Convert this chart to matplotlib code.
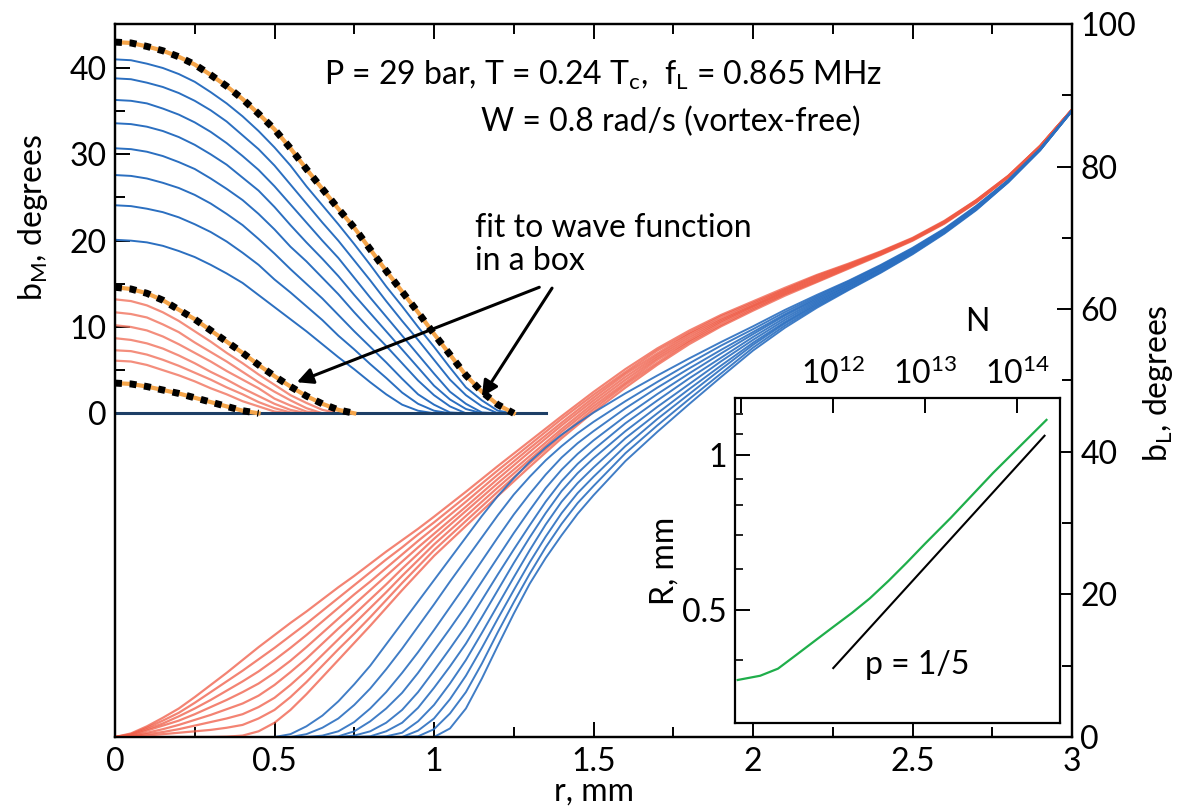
import matplotlib
matplotlib.use('Agg')
import matplotlib.pyplot as plt
from matplotlib.ticker import FixedLocator, NullFormatter, FixedFormatter

plt.rcParams['font.family'] = ['Lato', 'DejaVu Sans']
plt.rcParams['mathtext.fontset'] = 'custom'
plt.rcParams['mathtext.rm'] = 'Lato'
plt.rcParams['mathtext.default'] = 'regular'

# ---- data ----
# b_L(r), right axis. red family: 0.05 mm steps up to 1 mm, then 0.1 mm
r_red = [0.0, 0.05, 0.1, 0.15, 0.2, 0.25, 0.3, 0.35, 0.4, 0.45, 0.5, 0.55, 0.6, 0.65, 0.7,
         0.75, 0.8, 0.85, 0.9, 0.95, 1.0, 1.1, 1.2, 1.3, 1.4, 1.5, 1.6, 1.7, 1.8, 1.9, 2.0,
         2.1, 2.2, 2.3, 2.4, 2.5, 2.6, 2.7, 2.8, 2.9, 3.0]

bL_red = [
    [0, 0.5, 1.5, 2.7, 4.0, 5.6, 7.3, 9.0, 10.8, 12.6, 14.3, 16.0, 17.6, 19.3, 21.0, 22.6, 24.3, 26.0, 27.6, 29.2, 30.9,
     34.4, 38.0, 41.5, 45.0, 48.4, 51.6, 54.5, 57.0, 59.2, 61.1, 63.0, 64.8, 66.4, 68.1, 70.0, 72.4, 75.3, 78.7, 82.9, 88.0],
    [0, 0.4, 1.3, 2.3, 3.4, 4.8, 6.3, 7.8, 9.3, 10.9, 12.5, 14.2, 15.9, 17.7, 19.5, 21.3, 23.1, 24.9, 26.6, 28.4, 30.1,
     33.7, 37.4, 41.0, 44.6, 48.0, 51.2, 54.2, 56.7, 59.0, 60.9, 62.8, 64.7, 66.3, 68.0, 69.9, 72.3, 75.3, 78.7, 82.9, 88.0],
    [0, 0.3, 1.1, 1.9, 2.9, 4.0, 5.2, 6.5, 7.8, 9.2, 10.8, 12.5, 14.3, 16.2, 18.1, 20.0, 21.8, 23.7, 25.6, 27.5, 29.3,
     33.0, 36.8, 40.5, 44.1, 47.6, 50.9, 53.8, 56.5, 58.7, 60.7, 62.7, 64.5, 66.2, 68.0, 69.9, 72.3, 75.2, 78.6, 82.9, 88.0],
    [0, 0.2, 0.9, 1.6, 2.3, 3.2, 4.2, 5.2, 6.3, 7.5, 9.0, 10.7, 12.6, 14.6, 16.6, 18.6, 20.6, 22.6, 24.6, 26.6, 28.5,
     32.3, 36.2, 40.0, 43.7, 47.2, 50.5, 53.5, 56.2, 58.5, 60.5, 62.5, 64.4, 66.1, 67.9, 69.8, 72.2, 75.2, 78.6, 82.9, 88.0],
    [0, 0.1, 0.6, 1.1, 1.7, 2.4, 3.1, 3.9, 4.7, 5.8, 7.3, 9.1, 11.0, 13.1, 15.2, 17.2, 19.3, 21.4, 23.6, 25.7, 27.8,
     31.7, 35.6, 39.4, 43.2, 46.8, 50.1, 53.2, 55.9, 58.3, 60.4, 62.4, 64.2, 66.0, 67.8, 69.8, 72.2, 75.1, 78.6, 82.8, 88.0],
    [0, 0.1, 0.4, 0.7, 1.1, 1.6, 2.1, 2.6, 3.2, 4.2, 5.5, 7.3, 9.3, 11.5, 13.7, 15.9, 18.1, 20.3, 22.6, 24.8, 27.0,
     31.0, 35.0, 38.9, 42.8, 46.4, 49.7, 52.9, 55.6, 58.1, 60.2, 62.2, 64.1, 65.9, 67.7, 69.7, 72.1, 75.1, 78.6, 82.8, 88.0],
    [0, 0.0, 0.2, 0.4, 0.6, 0.8, 1.0, 1.3, 1.7, 2.6, 3.8, 5.6, 7.7, 10.0, 12.3, 14.5, 16.8, 19.2, 21.6, 23.9, 26.2,
     30.3, 34.4, 38.4, 42.3, 46.0, 49.4, 52.5, 55.4, 57.8, 60.0, 62.1, 63.9, 65.8, 67.7, 69.7, 72.1, 75.0, 78.5, 82.8, 88.0],
    [0, 0, 0, 0, 0, 0, 0, 0.05, 0.2, 0.8, 2.0, 3.8, 6.0, 8.4, 10.8, 13.2, 15.6, 18.1, 20.6, 23.0, 25.4,
     29.6, 33.8, 37.9, 41.9, 45.6, 49.0, 52.2, 55.1, 57.6, 59.8, 61.9, 63.8, 65.7, 67.6, 69.6, 72.0, 75.0, 78.5, 82.8, 88.0],
]

# blue family: 0.05 mm steps between 0.5 and 1.5 mm
r_blue = [0.0, 0.1, 0.2, 0.3, 0.4, 0.5, 0.55, 0.6, 0.65, 0.7, 0.75, 0.8, 0.85, 0.9, 0.95, 1.0,
          1.05, 1.1, 1.15, 1.2, 1.25, 1.3, 1.35, 1.4, 1.45, 1.5, 1.6, 1.7, 1.8, 1.9, 2.0,
          2.1, 2.2, 2.3, 2.4, 2.5, 2.6, 2.7, 2.8, 2.9, 3.0]

bL_blue = [
    [0, 0, 0, 0, 0, 0, 0.4, 1.5, 3.0, 5.0, 7.4, 10.0, 13.0, 16.0, 19.0, 22.0, 25.0, 28.0, 31.0, 33.8, 36.3, 38.6, 40.6, 42.4, 44.0, 45.5,
     48.2, 50.7, 53.1, 55.4, 57.6, 59.9, 62.0, 64.0, 66.2, 68.6, 71.3, 74.5, 78.1, 82.5, 87.9],
    [0, 0, 0, 0, 0, 0, 0.0, 0.4, 1.3, 2.6, 4.5, 6.8, 9.5, 12.4, 15.5, 18.6, 21.8, 24.9, 28.0, 31.1, 34.0, 36.5, 38.8, 40.8, 42.6, 44.2,
     47.1, 49.8, 52.4, 54.9, 57.2, 59.6, 61.8, 63.9, 66.1, 68.5, 71.2, 74.4, 78.1, 82.5, 87.9],
    [0, 0, 0, 0, 0, 0, 0, 0, 0.2, 0.8, 2.1, 4.0, 6.3, 9.0, 11.9, 15.0, 18.2, 21.4, 24.7, 28.0, 31.2, 34.1, 36.8, 39.2, 41.2, 42.9,
     46.1, 49.0, 51.7, 54.3, 56.8, 59.3, 61.6, 63.7, 66.0, 68.4, 71.1, 74.4, 78.0, 82.5, 87.9],
    [0, 0, 0, 0, 0, 0, 0, 0, 0, 0.1, 0.8, 2.2, 4.0, 6.2, 9.0, 12.1, 15.2, 18.4, 21.8, 25.2, 28.6, 31.8, 34.9, 37.5, 39.7, 41.6,
     45.0, 48.1, 51.0, 53.8, 56.5, 59.1, 61.4, 63.6, 65.8, 68.3, 71.1, 74.3, 78.0, 82.4, 87.9],
    [0, 0, 0, 0, 0, 0, 0, 0, 0, 0, 0.2, 0.8, 2.0, 3.8, 6.3, 9.3, 12.4, 15.6, 19.2, 22.8, 26.3, 29.7, 33.0, 35.9, 38.3, 40.3,
     44.0, 47.2, 50.3, 53.2, 56.1, 58.8, 61.2, 63.4, 65.7, 68.2, 71.0, 74.2, 78.0, 82.4, 87.9],
    [0, 0, 0, 0, 0, 0, 0, 0, 0, 0, 0, 0.1, 0.8, 2.0, 4.1, 6.9, 9.9, 13.1, 16.8, 20.6, 24.4, 28.0, 31.4, 34.5, 37.0, 39.1,
     42.9, 46.3, 49.5, 52.7, 55.7, 58.5, 61.0, 63.3, 65.6, 68.1, 70.9, 74.2, 77.9, 82.4, 87.8],
    [0, 0, 0, 0, 0, 0, 0, 0, 0, 0, 0, 0, 0.1, 0.6, 2.2, 4.5, 7.5, 10.8, 14.6, 18.5, 22.4, 26.2, 29.8, 33.0, 35.6, 37.8,
     41.9, 45.4, 48.8, 52.1, 55.3, 58.2, 60.8, 63.1, 65.5, 68.0, 70.8, 74.1, 77.9, 82.4, 87.8],
    [0, 0, 0, 0, 0, 0, 0, 0, 0, 0, 0, 0, 0, 0, 0.9, 2.6, 5.3, 8.6, 12.5, 16.6, 20.6, 24.5, 28.1, 31.4, 34.2, 36.5,
     40.8, 44.6, 48.1, 51.6, 55.0, 58.0, 60.6, 63.0, 65.3, 67.9, 70.8, 74.0, 77.9, 82.3, 87.8],
    [0, 0, 0, 0, 0, 0, 0, 0, 0, 0, 0, 0, 0, 0, 0.1, 1.1, 3.3, 6.3, 10.3, 14.7, 18.9, 22.9, 26.6, 29.9, 32.8, 35.2,
     39.8, 43.7, 47.4, 51.0, 54.6, 57.7, 60.4, 62.8, 65.2, 67.8, 70.7, 74.0, 77.8, 82.3, 87.8],
    [0, 0, 0, 0, 0, 0, 0, 0, 0, 0, 0, 0, 0, 0, 0, 0, 1.2, 4.0, 8.2, 12.8, 17.3, 21.5, 25.1, 28.3, 31.3, 33.9,
     38.7, 42.8, 46.7, 50.5, 54.2, 57.4, 60.2, 62.7, 65.1, 67.7, 70.6, 73.9, 77.8, 82.3, 87.8],
]

# b_M(r), left axis, sampled every 0.05 mm (curves stay at 0 up to the end of r_M)
r_M = [0.0, 0.05, 0.1, 0.15, 0.2, 0.25, 0.3, 0.35, 0.4, 0.45, 0.5, 0.55, 0.6, 0.65,
       0.7, 0.75, 0.8, 0.85, 0.9, 0.95, 1.0, 1.05, 1.1, 1.15, 1.2, 1.25, 1.3, 1.35]

bM_red = [
    [14.6, 14.4, 13.9, 13.1, 12.0, 10.9, 9.6, 8.3, 7.0, 5.6, 4.3, 3.1, 2.0, 1.1, 0.4, 0.0],
    [13.2, 13.0, 12.5, 11.7, 10.7, 9.5, 8.3, 7.0, 5.8, 4.5, 3.3, 2.1, 1.2, 0.4, 0.0],
    [11.7, 11.5, 11.1, 10.3, 9.4, 8.2, 7.1, 6.0, 4.8, 3.6, 2.5, 1.5, 0.6, 0.0],
    [10.2, 10.0, 9.6, 8.9, 8.0, 7.0, 6.0, 4.9, 3.9, 2.9, 1.7, 0.9, 0.2, 0.0],
    [8.7, 8.5, 8.1, 7.5, 6.7, 5.8, 4.8, 3.9, 2.9, 2.0, 1.1, 0.4, 0.0],
    [7.3, 7.2, 6.8, 6.2, 5.5, 4.7, 3.9, 3.0, 2.2, 1.3, 0.6, 0.1, 0.0],
    [6.1, 6.0, 5.6, 5.0, 4.4, 3.7, 2.9, 2.2, 1.4, 0.8, 0.2, 0.0],
    [3.5, 3.4, 3.1, 2.7, 2.3, 1.8, 1.3, 0.8, 0.3, 0.0],
]

bM_blue = [
    [43.0, 42.9, 42.5, 42.0, 41.3, 40.4, 39.2, 37.9, 36.4, 34.7, 32.9, 30.7, 28.3, 26.0, 23.7, 21.5, 19.0, 16.5, 14.1, 11.7, 9.2, 6.8, 4.4, 2.5, 1.0, 0.0],
    [41.0, 40.9, 40.5, 40.0, 39.3, 38.4, 37.2, 35.9, 34.4, 32.7, 30.8, 28.7, 26.3, 24.1, 21.9, 19.6, 17.2, 14.7, 12.4, 10.0, 7.7, 5.3, 3.0, 1.5, 0.3, 0.0],
    [38.8, 38.7, 38.3, 37.8, 37.1, 36.2, 35.1, 33.8, 32.2, 30.6, 28.7, 26.5, 24.3, 22.1, 20.0, 17.7, 15.4, 13.0, 10.7, 8.5, 6.2, 3.9, 2.1, 0.8, 0.0],
    [36.3, 36.2, 35.9, 35.3, 34.6, 33.7, 32.6, 31.3, 29.8, 28.2, 26.3, 24.2, 22.1, 20.0, 18.0, 15.7, 13.4, 11.2, 9.0, 6.8, 4.6, 2.5, 1.1, 0.1, 0.0],
    [33.6, 33.5, 33.2, 32.7, 32.0, 31.1, 30.0, 28.8, 27.3, 25.8, 23.9, 21.8, 19.8, 17.9, 15.9, 13.7, 11.6, 9.5, 7.4, 5.3, 3.2, 1.6, 0.5, 0.0],
    [30.7, 30.6, 30.3, 29.8, 29.1, 28.3, 27.2, 26.0, 24.7, 23.1, 21.3, 19.3, 17.6, 15.7, 13.8, 11.7, 9.7, 7.8, 5.8, 3.8, 2.1, 0.8, 0.0],
    [27.6, 27.5, 27.2, 26.7, 26.1, 25.3, 24.3, 23.1, 21.8, 20.2, 18.5, 16.7, 15.0, 13.3, 11.4, 9.5, 7.7, 5.9, 4.0, 2.2, 1.0, 0.1, 0.0],
    [24.1, 24.0, 23.7, 23.3, 22.7, 21.9, 21.0, 19.9, 18.6, 17.2, 15.5, 14.0, 12.4, 10.8, 9.0, 7.4, 5.7, 4.1, 2.4, 1.1, 0.3, 0.0],
    [20.1, 20.0, 19.8, 19.4, 18.8, 18.1, 17.2, 16.2, 15.1, 13.7, 12.3, 10.9, 9.5, 8.0, 6.5, 5.1, 3.6, 2.2, 1.0, 0.3, 0.0],
]

# curves marked with the "wave function in a box" fits
fit_curves = [bM_blue[0], bM_red[0], bM_red[-1]]

# inset: R vs N
N_green = [9.1e10, 1.6e11, 2.5e11, 4.0e11, 6.3e11, 1.0e12, 1.6e12, 2.5e12, 4.0e12,
           6.3e12, 1.0e13, 1.9e13, 5.5e13, 2.1e14]
R_green = [0.366, 0.373, 0.385, 0.41, 0.436, 0.464, 0.494, 0.527, 0.57, 0.618, 0.673,
           0.755, 0.923, 1.17]
N_pow = [1.0e12, 2.0e14]
R_pow = [0.386, 1.09]

red_c = '#ef5a44'
blue_c = '#2b6fc0'
FS = 23

fig = plt.figure(figsize=(11.88, 8.10), dpi=100)
ax = fig.add_axes([0.0968, 0.0901, 0.8056, 0.8803])
ax2 = ax.twinx()

# b_L curves (right axis)
for v in bL_red:
    ax2.plot(r_red, v, color=red_c, lw=1.6, alpha=0.75)
for v in bL_blue:
    ax2.plot(r_blue, v, color=blue_c, lw=1.4, alpha=0.9)

# b_M curves (left axis)
def padded(v):
    return list(v) + [0.0] * (len(r_M) - len(v))

for v in bM_red:
    ax.plot(r_M, padded(v), color='#f27a66', lw=1.6, alpha=0.85)
for v in bM_blue:
    ax.plot(r_M, padded(v), color=blue_c, lw=1.4)
ax.plot(r_M, padded([0.0]), color='#1d3f66', lw=2.2)
for v in fit_curves:
    ax.plot(r_M[:len(v)], v, color='#f5a54a', lw=3.0)
    ax.plot(r_M[:len(v)], v, color='k', lw=5, linestyle=(0, (1, 1.1)), dash_capstyle='butt')

# arrows to the fits
arr = dict(arrowstyle='-|>', color='k', lw=2.2, mutation_scale=24, shrinkA=0, shrinkB=0)
ax.annotate('', xy=(0.57, 3.6), xytext=(1.33, 14.6), arrowprops=arr)
ax.annotate('', xy=(1.15, 1.9), xytext=(1.37, 14.5), arrowprops=arr)

ax.set_xlim(0, 3)
ax.set_ylim(-37.5, 45.1)
ax2.set_ylim(0, 100)

ax.set_xticks([0, 0.5, 1, 1.5, 2, 2.5, 3])
ax.set_xticklabels(['0', '0.5', '1', '1.5', '2', '2.5', '3'])
ax.xaxis.set_minor_locator(FixedLocator([0.25, 0.75, 1.25, 1.75, 2.25, 2.75]))
ax.set_yticks([0, 10, 20, 30, 40])
ax.yaxis.set_minor_locator(FixedLocator([5, 15, 25, 35]))
ax.tick_params(axis='x', which='both', direction='in', top=True, bottom=True, labelsize=FS, pad=7)
ax.tick_params(axis='y', which='both', direction='in', left=True, right=False, labelsize=FS, pad=6)
ax.tick_params(which='major', length=11, width=1.4)
ax.tick_params(which='minor', length=7, width=1.4)

ax2.set_yticks([0, 20, 40, 60, 80, 100])
ax2.yaxis.set_minor_locator(FixedLocator([10, 30, 50, 70, 90]))
ax2.tick_params(axis='y', which='both', direction='in', labelsize=FS, pad=6)
ax2.tick_params(which='major', length=11, width=1.4)
ax2.tick_params(which='minor', length=7, width=1.4)

for a in (ax, ax2):
    for s in a.spines.values():
        s.set_linewidth(1.6)

ax.set_xlabel('r, mm', fontsize=FS, labelpad=0)
fig.text(0.028, 0.732, 'b$_M$, degrees', rotation=90, fontsize=FS, ha='center', va='center')
fig.text(0.975, 0.527, 'b$_L$, degrees', rotation=90, fontsize=FS, ha='center', va='center')

fig.text(0.508, 0.907, 'P = 29 bar, T = 0.24 T$_c$,  f$_L$ = 0.865 MHz', fontsize=FS,
         ha='center', va='center')
fig.text(0.565, 0.849, 'W = 0.8 rad/s (vortex-free)', fontsize=FS, ha='center', va='center')
fig.text(0.400, 0.698, 'fit to wave function\nin a box', fontsize=FS, ha='left', va='center',
         linespacing=1.1)

# inset
ax_in = fig.add_axes([0.6187, 0.1074, 0.2736, 0.4012])
ax_in.set_facecolor('white')
ax_in.set_xscale('log')
ax_in.set_yscale('log')
ax_in.plot(N_green, R_green, color='#1fae4a', lw=1.6)
ax_in.plot(N_pow, R_pow, color='k', lw=1.5)
ax_in.set_xlim(10 ** 10.93, 10 ** 14.47)
ax_in.set_ylim(0.302, 1.29)

ax_in.xaxis.set_major_locator(FixedLocator([1e11, 1e12, 1e13, 1e14]))
ax_in.xaxis.set_major_formatter(FixedFormatter(['', '$10^{12}$', '$10^{13}$', '$10^{14}$']))
ax_in.tick_params(axis='x', which='both', direction='in', top=True, bottom=False,
                  labeltop=True, labelbottom=False, labelsize=FS, pad=6)
ax_in.yaxis.set_major_locator(FixedLocator([0.5, 1.0]))
ax_in.yaxis.set_major_formatter(FixedFormatter(['0.5', '1']))
ax_in.yaxis.set_minor_locator(FixedLocator([0.4, 0.6, 0.7, 0.8, 0.9, 1.1, 1.2]))
ax_in.yaxis.set_minor_formatter(NullFormatter())
ax_in.tick_params(axis='y', which='both', direction='in', left=True, right=False, labelsize=FS, pad=6)
ax_in.tick_params(which='major', length=11, width=1.4)
ax_in.tick_params(which='minor', length=6, width=1.2)
for s in ax_in.spines.values():
    s.set_linewidth(1.6)
ax_in.set_ylabel('R, mm', fontsize=FS, labelpad=2)
ax_in.text(0.745, 1.235, 'N', transform=ax_in.transAxes, fontsize=FS, ha='center', va='center')
ax_in.text(0.56, 0.178, 'p = 1/5', transform=ax_in.transAxes, fontsize=FS, ha='center', va='center')

fig.savefig('out.png', dpi=100)
